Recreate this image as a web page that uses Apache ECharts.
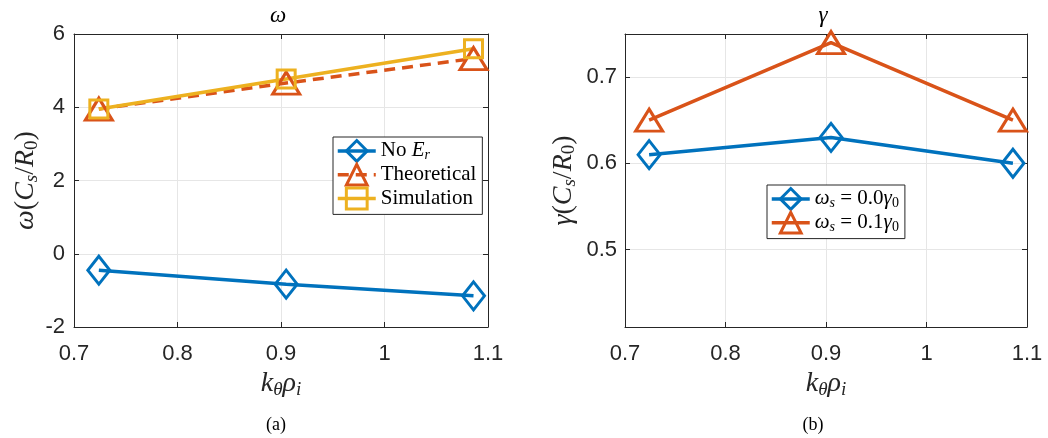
<!DOCTYPE html>
<html>
<head>
<meta charset="utf-8">
<script src="https://cdn.jsdelivr.net/npm/echarts@6/dist/echarts.min.js"></script>
<style>
html, body { margin: 0; padding: 0; background: #fff; }
#main { width: 1048px; height: 438px; }
</style>
</head>
<body>
<div id="main"></div>
<script>
// k_theta * rho_i
const kRho = [0.724, 0.905, 1.086];
// (a) omega
const omegaNoEr = [-0.45, -0.83, -1.15];
const omegaTheory = [3.95, 4.66, 5.33];
const omegaSim = [3.95, 4.77, 5.6];
// (b) gamma
const gammaWs00 = [0.61, 0.63, 0.60];
const gammaWs01 = [0.65, 0.74, 0.65];

const BLUE = '#0072BD';
const ORANGE = '#D95319';
const YELLOW = '#EDB120';
const INK = '#262626';
const SERIF = 'Liberation Serif';

const pairs = (ys) => kRho.map((x, i) => [x, ys[i]]);

const mathRich = {
  i: { fontFamily: SERIF, fontStyle: 'italic', fontSize: 28, color: INK },
  r: { fontFamily: SERIF, fontSize: 28, color: INK },
  s: { fontFamily: SERIF, fontStyle: 'italic', fontSize: 19, color: INK, padding: [12, 0, 0, 0] },
  s0: { fontFamily: SERIF, fontSize: 19, color: INK, padding: [12, 0, 0, 0] },
};

const tickLabel = { color: INK, fontFamily: 'Liberation Sans', fontSize: 22 };
const frame = { show: true, onZero: false, lineStyle: { color: INK, width: 1 } };
const ticks = { show: true, inside: true, length: 5, lineStyle: { color: INK } };
const gridLine = { show: true, lineStyle: { color: '#e6e6e6', width: 1 } };

const xName = '{i|k}{s|θ}{i|ρ}{s|i}';

const makeX = (gi) => [
  {
    type: 'value', gridIndex: gi, position: 'bottom',
    min: 0.7, max: 1.1, interval: 0.1,
    axisLine: frame, axisTick: ticks, splitLine: gridLine,
    axisLabel: { ...tickLabel, margin: 16 },
    name: xName, nameLocation: 'middle', nameGap: 40,
    nameTextStyle: { rich: mathRich },
  },
  {
    type: 'value', gridIndex: gi, position: 'top',
    min: 0.7, max: 1.1, interval: 0.1,
    axisLine: frame, axisTick: ticks, splitLine: { show: false },
    axisLabel: { show: false },
  },
];

const makeY = (gi, range, name, gap, margin) => [
  {
    type: 'value', gridIndex: gi, position: 'left',
    ...range,
    axisLine: frame, axisTick: ticks, splitLine: gridLine,
    axisLabel: { ...tickLabel, margin: margin, showMinLabel: range.min === -2, showMaxLabel: range.max === 6 },
    name: name, nameLocation: 'middle', nameGap: gap, nameRotate: 90,
    nameTextStyle: { rich: mathRich },
  },
  {
    type: 'value', gridIndex: gi, position: 'right',
    ...range,
    axisLine: frame, axisTick: ticks, splitLine: { show: false },
    axisLabel: { show: false },
  },
];

const hollow = (c) => ({ color: 'rgba(255,255,255,0)', borderColor: c, borderWidth: 3 });

const legendNames = {
  noEr: '{r|No }{i|E}{s|r}',
  Theoretical: '{r|Theoretical}',
  Simulation: '{r|Simulation}',
  ws0: '{i|ω}{s|s}{r| = 0.0}{i|γ}{s0|0}',
  ws1: '{i|ω}{s|s}{r| = 0.1}{i|γ}{s0|0}',
};

const legendRich = {
  i: { fontFamily: SERIF, fontStyle: 'italic', fontSize: 21, color: '#000' },
  r: { fontFamily: SERIF, fontSize: 21, color: '#000' },
  s: { fontFamily: SERIF, fontStyle: 'italic', fontSize: 14, color: '#000', padding: [9, 0, 0, 0] },
  s0: { fontFamily: SERIF, fontSize: 14, color: '#000', padding: [9, 0, 0, 0] },
};

const legendBase = {
  orient: 'vertical',
  backgroundColor: '#fff',
  borderColor: INK,
  borderWidth: 1,
  borderRadius: 0,
  padding: [2, 6, 4, 3],
  itemGap: 0,
  itemWidth: 38,
  itemHeight: 26,
  lineStyle: { width: 3.5 },
  itemStyle: { borderWidth: 3 },
  formatter: (n) => legendNames[n],
  textStyle: { rich: legendRich },
};

const myChart = echarts.init(document.getElementById('main'), null, { renderer: 'canvas' });

const option = {
  animation: false,
  backgroundColor: '#fff',
  grid: [
    { left: 74, right: 560, top: 34, bottom: 111 },
    { left: 625, right: 21, top: 34, bottom: 111 },
  ],
  xAxis: [...makeX(0), ...makeX(1)],
  yAxis: [
    ...makeY(0, { min: -2, max: 6, interval: 2 }, '{i|ω}{r|(}{i|C}{s|s}{r|/}{i|R}{s0|0}{r|)}', 32, 9),
    ...makeY(1, { min: 0.41, max: 0.75, splitNumber: 3 }, '{i|γ}{r|(}{i|C}{s|s}{r|/}{i|R}{s0|0}{r|)}', 46, 8),
  ],
  legend: [
    { ...legendBase, data: ['noEr', 'Theoretical', 'Simulation'], left: 333, top: 137 },
    { ...legendBase, data: ['ws0', 'ws1'], left: 767, top: 185 },
  ],
  graphic: [
    { type: 'text', x: 278, y: 16, style: { text: 'ω', font: 'italic 23px "Liberation Serif"', fill: '#000', align: 'center', verticalAlign: 'middle' } },
    { type: 'text', x: 823, y: 16, style: { text: 'γ', font: 'italic 23px "Liberation Serif"', fill: '#000', align: 'center', verticalAlign: 'middle' } },
    { type: 'text', x: 276, y: 425, style: { text: '(a)', font: '18px "Liberation Serif"', fill: '#000', align: 'center', verticalAlign: 'middle' } },
    { type: 'text', x: 813, y: 425, style: { text: '(b)', font: '18px "Liberation Serif"', fill: '#000', align: 'center', verticalAlign: 'middle' } },
  ],
  series: [
    {
      name: 'noEr', type: 'line', xAxisIndex: 0, yAxisIndex: 0,
      data: pairs(omegaNoEr),
      symbol: 'diamond', symbolSize: [22, 28],
      lineStyle: { color: BLUE, width: 3.5 }, itemStyle: hollow(BLUE),
    },
    {
      name: 'Theoretical', type: 'line', xAxisIndex: 0, yAxisIndex: 0,
      data: pairs(omegaTheory),
      symbol: 'triangle', symbolSize: [27, 22],
      lineStyle: { color: ORANGE, width: 3.5, type: [11, 7] }, itemStyle: hollow(ORANGE),
    },
    {
      name: 'Simulation', type: 'line', xAxisIndex: 0, yAxisIndex: 0,
      data: pairs(omegaSim),
      symbol: 'rect', symbolSize: 18,
      lineStyle: { color: YELLOW, width: 3.5 }, itemStyle: hollow(YELLOW),
    },
    {
      name: 'ws0', type: 'line', xAxisIndex: 2, yAxisIndex: 2,
      data: pairs(gammaWs00),
      symbol: 'diamond', symbolSize: [22, 28],
      lineStyle: { color: BLUE, width: 3.5 }, itemStyle: hollow(BLUE),
    },
    {
      name: 'ws1', type: 'line', xAxisIndex: 2, yAxisIndex: 2,
      data: pairs(gammaWs01),
      symbol: 'triangle', symbolSize: [27, 22],
      lineStyle: { color: ORANGE, width: 3.5 }, itemStyle: hollow(ORANGE),
    },
  ],
};

option && myChart.setOption(option);
</script>
</body>
</html>
